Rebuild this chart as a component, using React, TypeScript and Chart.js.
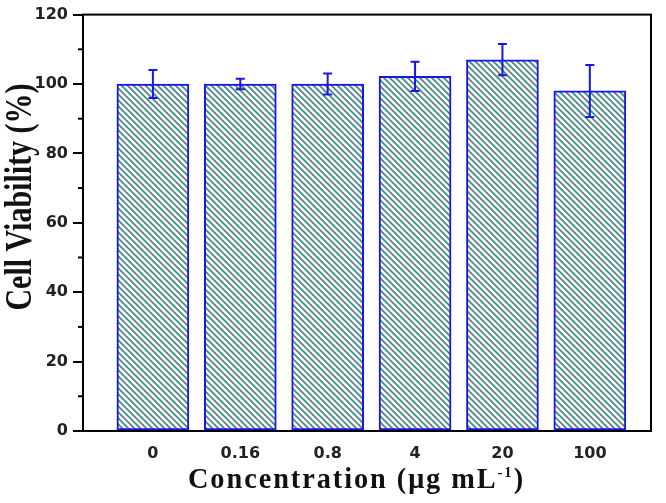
import React, { useEffect, useRef } from 'react';
import { Chart, registerables } from 'chart.js';

Chart.register(...registerables);

const categories = ['0', '0.16', '0.8', '4', '20', '100'];
const viability = [100, 100, 100, 102.2, 107, 98];
const errorValues = [4, 1.5, 3, 4.2, 4.5, 7.5];
const yMinorTicks = [10, 30, 50, 70, 90, 110];
const yTitle = 'Cell Viability (%)';
const xTitleMain = 'Concentration (\u03bcg mL';
const xTitleSup = '-1';
const xTitleEnd = ')';

const BLUE = '#1616e8';

function makeHatch(): CanvasPattern | string {
  const s = 12;
  const c = document.createElement('canvas');
  c.width = s;
  c.height = s;
  const g = c.getContext('2d');
  if (!g) return '#ffffff';
  g.fillStyle = '#ffffff';
  g.fillRect(0, 0, s, s);
  g.lineWidth = 1.6;
  for (let k = -4; k <= 4; k++) {
    const off = k * (s / 2);
    g.strokeStyle = Math.abs(k) % 2 === 0 ? '#2a9088' : '#66767a';
    g.beginPath();
    g.moveTo(-3, off - 3);
    g.lineTo(s + 3, off + s + 3);
    g.stroke();
  }
  const p = g.createPattern(c, 'repeat');
  return p || '#ffffff';
}

const framePlugin = {
  id: 'frame',
  afterDatasetsDraw(chart: any) {
    const { ctx, chartArea } = chart;
    ctx.save();
    ctx.strokeStyle = '#000';
    ctx.lineWidth = 2;
    ctx.strokeRect(chartArea.left, chartArea.top, chartArea.right - chartArea.left, chartArea.bottom - chartArea.top);
    ctx.restore();
  },
};

const errorPlugin = {
  id: 'errorbars',
  afterDatasetsDraw(chart: any) {
    const { ctx } = chart;
    const xs = chart.scales.x;
    const ys = chart.scales.y;
    ctx.save();
    ctx.strokeStyle = BLUE;
    ctx.lineWidth = 2;
    viability.forEach((v, i) => {
      const x = xs.getPixelForValue(i);
      const t = ys.getPixelForValue(v + errorValues[i]);
      const b = ys.getPixelForValue(v - errorValues[i]);
      ctx.beginPath();
      ctx.moveTo(x, t);
      ctx.lineTo(x, b);
      ctx.moveTo(x - 4.5, t);
      ctx.lineTo(x + 4.5, t);
      ctx.moveTo(x - 4.5, b);
      ctx.lineTo(x + 4.5, b);
      ctx.stroke();
    });
    ctx.restore();
  },
};

const minorTickPlugin = {
  id: 'minorticks',
  afterDraw(chart: any) {
    const { ctx, chartArea } = chart;
    const ys = chart.scales.y;
    ctx.save();
    ctx.strokeStyle = '#000';
    ctx.lineWidth = 2;
    yMinorTicks.forEach((v) => {
      const y = ys.getPixelForValue(v);
      ctx.beginPath();
      ctx.moveTo(chartArea.left - 5, y);
      ctx.lineTo(chartArea.left, y);
      ctx.stroke();
    });
    ctx.restore();
  },
};

const titlesPlugin = {
  id: 'titles',
  afterDraw(chart: any) {
    const { ctx } = chart;
    // y title
    ctx.save();
    ctx.translate(31, 197);
    ctx.rotate(-Math.PI / 2);
    ctx.scale(1, 1.25);
    ctx.font = 'bold 30px "Liberation Serif"';
    ctx.fillStyle = '#111';
    ctx.textAlign = 'center';
    ctx.textBaseline = 'alphabetic';
    ctx.fillText(yTitle, 0, 0);
    ctx.restore();

    // x title
    ctx.save();
    ctx.fillStyle = '#111';
    ctx.textBaseline = 'alphabetic';
    ctx.textAlign = 'left';
    (ctx as any).letterSpacing = '2px';
    const mainFont = 'bold 29px "Liberation Serif"';
    const supFont = 'bold 15px "Liberation Serif"';
    ctx.font = mainFont;
    const w1 = ctx.measureText(xTitleMain).width;
    const w3 = ctx.measureText(xTitleEnd).width;
    ctx.font = supFont;
    const w2 = ctx.measureText(xTitleSup).width;
    const total = w1 + w2 + w3;
    const targetW = 337;
    const sx = targetW / total;
    ctx.translate(188, 488);
    ctx.scale(sx, 1);
    ctx.font = mainFont;
    ctx.fillText(xTitleMain, 0, 0);
    ctx.font = supFont;
    ctx.fillText(xTitleSup, w1, -11);
    ctx.font = mainFont;
    ctx.fillText(xTitleEnd, w1 + w2, 0);
    ctx.restore();
  },
};

export default function App() {
  const ref = useRef<HTMLCanvasElement>(null);
  useEffect(() => {
    const canvas = ref.current;
    if (!canvas) return;
    const tickFont = { family: '"DejaVu Sans"', weight: 'bold' as const, size: 16 };
    const chart = new Chart(canvas, {
      type: 'bar',
      data: {
        datasets: [
          {
            data: viability.map((v, i) => ({ x: i, y: v })),
            backgroundColor: makeHatch() as any,
            borderColor: BLUE,
            borderWidth: 2,
            borderSkipped: false,
            barThickness: 72,
          } as any,
        ],
      },
      options: {
        animation: false,
        responsive: false,
        events: [],
        layout: { padding: { top: 13, right: 15, left: 0, bottom: 0 } },
        plugins: { legend: { display: false }, tooltip: { enabled: false } },
        scales: {
          x: {
            type: 'linear',
            min: -0.8,
            max: 5.7,
            offset: false,
            grid: { display: false, drawTicks: false },
            border: { display: true, color: '#000', width: 2 },
            ticks: {
              stepSize: 1,
              includeBounds: false,
              autoSkip: false,
              maxRotation: 0,
              padding: 13,
              color: '#222',
              font: tickFont,
              callback: (v: any) => {
                const n = Number(v);
                return Number.isInteger(n) && categories[n] !== undefined ? categories[n] : '';
              },
            },
            afterFit: (s: any) => {
              s.height = 72;
            },
          } as any,
          y: {
            min: 0,
            max: 120,
            grid: { drawOnChartArea: false, drawTicks: true, tickLength: 10, color: '#000', lineWidth: 2 },
            border: { display: true, color: '#000', width: 2 },
            ticks: { stepSize: 20, padding: 5, color: '#222', font: tickFont },
            afterFit: (s: any) => {
              s.width = 83;
            },
          } as any,
        },
      },
      plugins: [framePlugin, errorPlugin, minorTickPlugin, titlesPlugin],
    });
    return () => chart.destroy();
  }, []);
  return (
    <div style={{ position: 'fixed', left: 0, top: 0, width: 666, height: 503, background: '#fff' }}>
      <canvas ref={ref} width={666} height={503} style={{ display: 'block', width: 666, height: 503 }} />
    </div>
  );
}
